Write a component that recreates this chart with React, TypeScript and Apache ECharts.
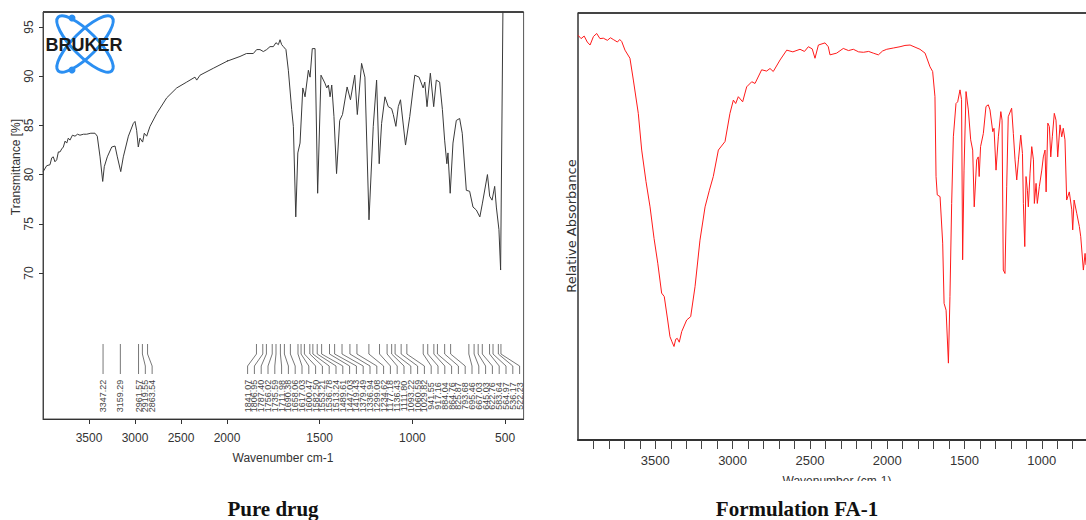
import React, { useEffect, useRef } from "react";
import * as echarts from "echarts";

// ---------- Pure drug (Bruker transmittance spectrum) ----------
const pureDrugWavenumber = [
  3998, 3960, 3924, 3905, 3888, 3870, 3851, 3833, 3815, 3797, 3779, 3760, 3742, 3725, 3707, 3680, 3652, 3625, 3598, 3560,
  3525, 3480, 3435, 3410, 3380, 3351, 3334, 3301, 3253, 3217, 3192, 3155, 3127, 3072, 3018, 3000, 2982, 2964, 2946, 2917,
  2899, 2873, 2837, 2764, 2655, 2547, 2438, 2348, 2329, 2293, 2149, 2003, 1930, 1895, 1858, 1840, 1822, 1804, 1786, 1768,
  1750, 1736, 1723, 1714, 1705, 1696, 1682, 1669, 1651, 1642, 1629, 1618, 1606, 1591, 1579, 1561, 1552, 1540, 1525, 1511,
  1493, 1472, 1462, 1453, 1444, 1435, 1423, 1409, 1392, 1377, 1352, 1334, 1311, 1297, 1274, 1256, 1234, 1211, 1193, 1179,
  1166, 1148, 1130, 1112, 1103, 1089, 1076, 1064, 1037, 1014, 987, 964, 942, 933, 921, 903, 885, 871, 853, 838,
  826, 814, 808, 796, 781, 763, 745, 731, 709, 691, 673, 655, 636, 622, 595, 583, 570, 556, 547, 533,
  524, 510,
];
const pureDrugTransmittance = [
  80.3, 80.9, 81.0, 81.7, 81.8, 81.3, 81.5, 82.3, 82.3, 82.6, 82.8, 83.4, 83.2, 83.7, 83.5, 84.0, 83.9, 84.1, 84.0, 84.1,
  84.1, 84.2, 84.2, 83.9, 81.8, 79.3, 80.8, 81.8, 82.8, 82.9, 81.8, 80.3, 81.8, 83.9, 85.2, 85.4, 84.5, 82.8, 83.7, 83.3,
  84.2, 83.9, 84.9, 86.2, 87.8, 88.8, 89.4, 89.9, 89.6, 90.1, 90.8, 91.5, 92.0, 92.3, 92.3, 92.7, 92.7, 92.5, 92.7, 93.0,
  93.0, 93.4, 93.2, 93.7, 93.2, 93.0, 92.7, 90.6, 86.6, 84.9, 75.7, 82.2, 83.2, 88.8, 87.9, 90.6, 89.9, 92.8, 92.8, 78.1,
  90.1, 89.3, 88.8, 89.1, 87.9, 89.1, 85.9, 80.1, 85.5, 86.1, 88.9, 87.6, 90.1, 86.1, 91.3, 89.9, 75.4, 84.9, 89.6, 81.1,
  85.2, 87.9, 86.9, 86.7, 86.1, 84.9, 86.9, 87.6, 83.0, 85.9, 90.1, 89.9, 88.8, 89.4, 86.9, 90.3, 86.9, 89.6, 89.4, 86.6,
  83.5, 81.1, 82.2, 78.1, 83.2, 85.5, 85.7, 84.2, 78.4, 78.3, 76.7, 76.4, 75.7, 77.1, 80.0, 77.8, 77.4, 78.8, 76.7, 74.4,
  70.3, 100,
];
const pureDrugPeaks = [
  3347.22, 3159.29, 2961.57, 2919.55, 2863.54,
  1841.07, 1806.95, 1787.4, 1756.02, 1735.59, 1711.98, 1690.38, 1658.06, 1617.03, 1600.47, 1582.5, 1553.21, 1536.78,
  1513.24, 1489.61, 1447.03, 1419.43, 1379.49, 1336.94, 1299.08, 1234.62, 1177.18, 1136.43, 1111.8, 1093.22, 1060.59,
  1029.82, 941.55, 917.16, 884.04, 864.76, 825.87, 793.68, 695.46, 667.03, 645.03, 622.76, 583.64, 564.97, 536.17, 522.23,
];
const pureHighTicks = [2500, 3000, 3500];
const pureLowTicks = [500, 1000, 1500, 2000];
const pureYTicks = [70, 75, 80, 85, 90, 95];

// ---------- Formulation FA-1 (relative absorbance) ----------
const formulationWavenumber = [
  4000, 3980, 3960, 3940, 3922, 3900, 3879, 3858, 3836, 3810, 3790, 3772, 3745, 3730, 3717, 3696, 3664, 3642, 3610, 3588,
  3560, 3534, 3508, 3484, 3459, 3442, 3420, 3405, 3392, 3379, 3368, 3358, 3345, 3329, 3297, 3271, 3243, 3211, 3178, 3150,
  3125, 3092, 3049, 3017, 2995, 2980, 2963, 2935, 2909, 2876, 2855, 2812, 2780, 2758, 2737, 2693, 2650, 2610, 2564, 2535,
  2510, 2485, 2467, 2445, 2402, 2381, 2370, 2327, 2284, 2250, 2219, 2185, 2154, 2120, 2090, 2057, 2030, 2003, 1960, 1917,
  1885, 1852, 1820, 1788, 1755, 1723, 1706, 1691, 1684, 1676, 1658, 1641, 1632, 1619, 1604, 1594, 1583, 1572, 1555, 1544,
  1529, 1519, 1512, 1503, 1490, 1475, 1460, 1447, 1437, 1421, 1411, 1405, 1396, 1378, 1361, 1346, 1335, 1317, 1309, 1296,
  1281, 1265, 1257, 1249, 1238, 1227, 1217, 1195, 1184, 1173, 1162, 1151, 1136, 1125, 1119, 1110, 1102, 1093, 1087, 1076,
  1065, 1054, 1048, 1037, 1029, 1016, 1000, 990, 979, 972, 961, 951, 942, 932, 919, 908, 897, 882, 871, 861,
  850, 839, 822, 806, 800, 791, 774, 757, 748, 731, 720, 714,
];
const formulationAbsorbance = [
  94.8, 94.0, 94.6, 93.2, 92.5, 94.5, 95.2, 94.0, 94.1, 93.6, 94.2, 93.8, 93.2, 93.8, 93.3, 91.3, 89.4, 84.3, 76.5, 67.9,
  60.5, 54.6, 47.2, 41.4, 34.4, 33.6, 28.1, 24.2, 23.0, 21.9, 23.6, 23.8, 22.9, 25.4, 28.1, 28.9, 35.9, 46.8, 54.6, 58.5,
  61.7, 67.9, 69.9, 76.5, 79.6, 78.8, 80.4, 79.2, 82.7, 83.9, 83.5, 86.7, 86.4, 87.0, 86.3, 89.0, 91.3, 90.9, 91.5, 91.0,
  92.1, 91.6, 89.4, 92.5, 93.0, 92.1, 90.2, 90.6, 91.7, 91.2, 91.5, 90.9, 90.8, 91.0, 90.6, 90.2, 91.1, 91.5, 91.8, 92.1,
  92.4, 92.5, 92.0, 91.5, 90.6, 87.4, 86.3, 80.4, 61.7, 57.4, 57.0, 46.1, 32.0, 30.4, 18.0, 33.6, 55.4, 71.0, 78.8, 79.2,
  82.0, 79.7, 42.2, 63.2, 81.6, 77.3, 70.3, 67.9, 54.6, 65.6, 66.3, 61.7, 68.7, 71.8, 78.1, 78.5, 77.3, 72.2, 73.0, 63.2,
  71.0, 76.9, 74.9, 39.8, 39.0, 59.3, 75.7, 77.7, 71.8, 65.6, 60.9, 65.6, 71.4, 67.1, 55.4, 45.3, 61.7, 58.5, 54.6, 62.5,
  68.7, 65.6, 55.4, 60.1, 55.4, 59.3, 63.2, 66.3, 67.9, 58.1, 74.2, 73.4, 66.3, 71.0, 76.5, 74.9, 66.3, 73.8, 71.0, 73.0,
  70.3, 56.2, 58.1, 53.9, 49.2, 56.2, 53.1, 50.0, 47.6, 39.8, 43.7, 41.0,
];
const formulationMinorTicks = [800, 900, 1000, 1100, 1200, 1300, 1400, 1500, 1600, 1700, 1800, 1900, 2000, 2100, 2200, 2300,
  2400, 2500, 2600, 2700, 2800, 2900, 3000, 3100, 3200, 3300, 3400, 3500, 3600, 3700, 3800, 3900];
const formulationLabelTicks = [1000, 1500, 2000, 2500, 3000, 3500];

const NARROW = "'Liberation Sans Narrow', 'Liberation Sans', Arial, sans-serif";
const SANS = "'Liberation Sans', Arial, sans-serif";
const plain = (v: number) => String(v);

export default function App() {
  const ref = useRef<HTMLDivElement>(null);

  useEffect(() => {
    const chart = echarts.init(ref.current!, null, { renderer: "svg" });

    const pure = pureDrugWavenumber.map((w, i) => [w, pureDrugTransmittance[i]]);
    const cut = pure.findIndex((p) => p[0] < 2000);
    const highSeg = pure.slice(0, cut + 1);
    const lowSeg = pure.slice(cut - 1);
    const formulation = formulationWavenumber.map((w, i) => [w, formulationAbsorbance[i]]);

    const leftAxisLabel = { fontFamily: NARROW, fontSize: 12, color: "#333", margin: 13, formatter: plain };
    const yMin = 55.16;
    const yMax = 96.52;

    chart.setOption({
      animation: false,
      backgroundColor: "#ffffff",
      grid: [
        { left: 43, top: 12, width: 184, height: 407 },
        { left: 227, top: 12, width: 296.6, height: 407 },
        { left: 578, top: 13, right: 0, height: 427 },
      ],
      xAxis: [
        {
          type: "value", gridIndex: 0, min: 2000, max: 4000, inverse: true,
          axisLine: { lineStyle: { color: "#333", width: 1 } },
          axisTick: { customValues: pureHighTicks, length: 5, lineStyle: { color: "#333" } },
          axisLabel: { ...leftAxisLabel, customValues: pureHighTicks },
          splitLine: { show: false },
        },
        {
          type: "value", gridIndex: 1, min: 400, max: 2000, inverse: true,
          axisLine: { lineStyle: { color: "#333", width: 1 } },
          axisTick: { customValues: pureLowTicks, length: 5, lineStyle: { color: "#333" } },
          axisLabel: { ...leftAxisLabel, customValues: pureLowTicks },
          splitLine: { show: false },
        },
        {
          type: "value", gridIndex: 2, min: 714, max: 4000, inverse: true,
          axisLine: { lineStyle: { color: "#333", width: 2 } },
          axisTick: { customValues: formulationMinorTicks, length: 9, lineStyle: { color: "#444" } },
          axisLabel: { fontFamily: NARROW, fontSize: 13, color: "#333", margin: 14, customValues: formulationLabelTicks, formatter: plain },
          splitLine: { show: false },
        },
      ],
      yAxis: [
        {
          type: "value", gridIndex: 0, min: yMin, max: yMax,
          axisLine: { show: true, lineStyle: { color: "#444", width: 1 } },
          axisTick: { show: true, customValues: pureYTicks, length: 4, lineStyle: { color: "#333" } },
          axisLabel: { customValues: pureYTicks, rotate: 90, fontFamily: NARROW, fontSize: 12, color: "#333", margin: 8, formatter: plain },
          splitLine: { show: false },
        },
        { type: "value", gridIndex: 1, min: yMin, max: yMax, show: false },
        {
          type: "value", gridIndex: 2, min: 0, max: 100,
          axisLine: { show: true, lineStyle: { color: "#333", width: 1.5 } },
          axisTick: { show: false },
          axisLabel: { show: false },
          splitLine: { show: false },
        },
      ],
      series: [
        {
          type: "line", xAxisIndex: 0, yAxisIndex: 0, data: highSeg, showSymbol: false, silent: true,
          lineStyle: { color: "#3a3a3a", width: 1 }, clip: true,
        },
        {
          type: "line", xAxisIndex: 1, yAxisIndex: 1, data: lowSeg, showSymbol: false, silent: true,
          lineStyle: { color: "#3a3a3a", width: 1 }, clip: true,
        },
        {
          type: "line", xAxisIndex: 2, yAxisIndex: 2, data: formulation, showSymbol: false, silent: true,
          lineStyle: { color: "#ff1a1a", width: 1 }, clip: true,
        },
      ],
    });

    // peak annotations for the pure drug spectrum
    const toPx = (wn: number) =>
      (chart.convertToPixel({ gridIndex: wn >= 2000 ? 0 : 1 }, [wn, 80]) as number[])[0];
    const plotRight = (chart.convertToPixel({ gridIndex: 1 }, [400, 80]) as number[])[0];
    const peaks = pureDrugPeaks.map((wn) => ({ wn, px: toPx(wn) })).sort((a, b) => a.px - b.px);
    const gap = 6.8;
    const lx: number[] = [];
    peaks.forEach((p, i) => {
      lx[i] = i === 0 ? p.px : Math.max(p.px, lx[i - 1] + gap);
    });
    for (let i = peaks.length - 1; i >= 0; i--) {
      const bound = i === peaks.length - 1 ? plotRight - 4 : lx[i + 1] - gap;
      lx[i] = Math.min(lx[i], bound);
    }
    const peakEls: any[] = [];
    peaks.forEach((p, i) => {
      peakEls.push({
        type: "polyline", silent: true,
        shape: { points: [[p.px, 344], [p.px, 354], [lx[i], 366], [lx[i], 374]] },
        style: { stroke: "#555", lineWidth: 0.8, fill: "none" },
      });
      peakEls.push({
        type: "text", x: lx[i], y: 396, rotation: Math.PI / 2, silent: true,
        style: { text: p.wn.toFixed(2), fontSize: 9, fontFamily: SANS, fill: "#444", align: "center", verticalAlign: "middle" },
      });
    });

    const logo: any[] = [
      {
        type: "ellipse", x: 85, y: 44, rotation: Math.PI / 4, silent: true,
        shape: { cx: 0, cy: 0, rx: 38, ry: 12 },
        style: { fill: "none", stroke: "#2b8ff2", lineWidth: 3 },
      },
      {
        type: "ellipse", x: 85, y: 44, rotation: -Math.PI / 4, silent: true,
        shape: { cx: 0, cy: 0, rx: 38, ry: 12 },
        style: { fill: "none", stroke: "#2b8ff2", lineWidth: 3 },
      },
      { type: "circle", silent: true, shape: { cx: 72, cy: 18, r: 3.5 }, style: { fill: "#2b8ff2" } },
      { type: "circle", silent: true, shape: { cx: 72, cy: 70, r: 3.5 }, style: { fill: "#2b8ff2" } },
      {
        type: "text", x: 84, y: 45, silent: true,
        style: { text: "BRUKER", fontSize: 18, fontWeight: 900, fontFamily: SANS, fill: "#1a1a1a", align: "center", verticalAlign: "middle" },
      },
    ];

    const frame: any[] = [
      {
        type: "rect", silent: true, shape: { x: 43, y: 12, width: plotRight - 43, height: 407 },
        style: { fill: "none", stroke: "#555", lineWidth: 1 },
      },
      { type: "line", silent: true, shape: { x1: 43, y1: 12, x2: plotRight, y2: 12 }, style: { stroke: "#222", lineWidth: 1.5 } },
      { type: "line", silent: true, shape: { x1: 578, y1: 13, x2: 1086, y2: 13 }, style: { stroke: "#444", lineWidth: 2 } },
    ];

    const texts: any[] = [
      {
        type: "text", x: 16, y: 167, rotation: Math.PI / 2, silent: true,
        style: { text: "Transmittance [%]", fontSize: 12, fontFamily: NARROW, fill: "#333", align: "center", verticalAlign: "middle" },
      },
      {
        type: "text", x: 283, y: 458, silent: true,
        style: { text: "Wavenumber cm-1", fontSize: 12, fontFamily: NARROW, fill: "#333", align: "center", verticalAlign: "middle" },
      },
      {
        type: "text", x: 571, y: 226, rotation: Math.PI / 2, silent: true,
        style: { text: "Relative Absorbance", fontSize: 13, fontFamily: "'DejaVu Sans', sans-serif", fill: "#333", align: "center", verticalAlign: "middle" },
      },
      {
        type: "text", x: 837, y: 481, silent: true,
        style: { text: "Wavenumber (cm-1)", fontSize: 12, fontFamily: NARROW, fill: "#333", align: "center", verticalAlign: "middle" },
      },
      { type: "rect", silent: true, shape: { x: 760, y: 481, width: 160, height: 14 }, style: { fill: "#ffffff" } },
      {
        type: "text", x: 273, y: 509, silent: true,
        style: { text: "Pure drug", fontSize: 21, fontWeight: "bold", fontFamily: "'Liberation Serif', serif", fill: "#111", align: "center", verticalAlign: "middle" },
      },
      {
        type: "text", x: 797, y: 509, silent: true,
        style: { text: "Formulation FA-1", fontSize: 21, fontWeight: "bold", fontFamily: "'Liberation Serif', serif", fill: "#111", align: "center", verticalAlign: "middle" },
      },
    ];

    chart.setOption({ graphic: { elements: [...frame, ...logo, ...peakEls, ...texts] } });

    return () => chart.dispose();
  }, []);

  return (
    <div
      ref={ref}
      style={{ position: "fixed", left: 0, top: 0, width: 1086, height: 520, background: "#fff" }}
    />
  );
}
